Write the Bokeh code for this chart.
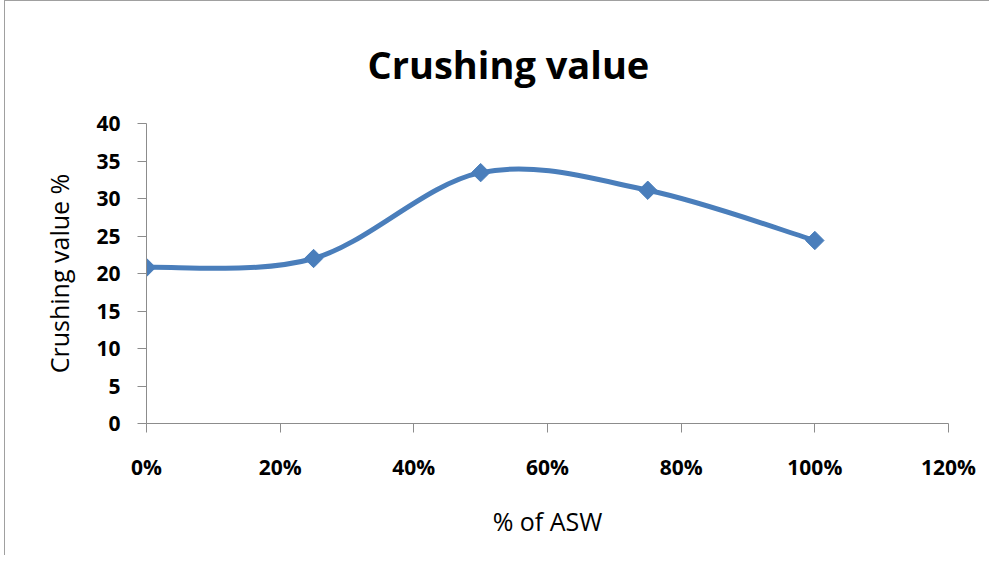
import math
from bokeh.plotting import figure
from bokeh.models import Range1d, FixedTicker, CustomJSTickFormatter
from bokeh.embed import file_html
from bokeh.resources import INLINE

# Data
asw_fraction = [0.0, 0.25, 0.50, 0.75, 1.00]
crushing_value = [20.8, 22.0, 33.45, 31.1, 24.4]
x_ticks = [0.0, 0.2, 0.4, 0.6, 0.8, 1.0, 1.2]
y_ticks = [0, 5, 10, 15, 20, 25, 30, 35, 40]

BLUE = "#4a7ebb"
AXIS = "#8c8c8c"
FONT = "Open Sans"

p = figure(width=985, height=555, output_backend="svg", toolbar_location=None,
           x_range=Range1d(0, 1.2), y_range=Range1d(0, 40),
           min_border_left=141, min_border_right=42,
           min_border_top=122, min_border_bottom=133,
           title="Crushing value",
           styles={"margin-left": "4px",
                   "border-top": "1px solid #a0a0a0", "border-left": "1px solid #a0a0a0"})

p.outline_line_color = None
p.xgrid.grid_line_color = None
p.ygrid.grid_line_color = None

p.title.align = "left"
p.title.offset = 221
p.title.text_font = FONT
p.title.text_font_size = "38px"
p.title.text_font_style = "bold"
p.title.text_color = "#000000"
p.title.standoff = 68

for ax in (p.xaxis, p.yaxis):
    ax.axis_line_color = AXIS
    ax.axis_line_width = 1
    ax.major_tick_line_color = AXIS
    ax.major_tick_in = 0
    ax.major_tick_out = 9
    ax.minor_tick_line_color = None
    ax.major_label_text_font = FONT
    ax.major_label_text_font_size = "21px"
    ax.major_label_text_font_style = "bold"
    ax.major_label_text_color = "#000000"
    ax.axis_label_text_font = FONT
    ax.axis_label_text_font_size = "25px"
    ax.axis_label_text_font_style = "normal"
    ax.axis_label_text_color = "#000000"

p.xaxis.ticker = FixedTicker(ticks=x_ticks)
p.yaxis.ticker = FixedTicker(ticks=y_ticks)
p.xaxis.formatter = CustomJSTickFormatter(code="return Math.round(tick*100) + '%';")
p.xaxis.major_label_standoff = 20
p.yaxis.major_label_standoff = 17
p.xaxis.axis_label = "% of ASW"
p.yaxis.axis_label = "Crushing value %"
p.xaxis.axis_label_standoff = 20
p.yaxis.axis_label_standoff = 17

# Smooth (Excel-like Catmull-Rom) bezier segments built from the data
n = len(asw_fraction)
x0, y0, x1, y1, cx0, cy0, cx1, cy1 = [], [], [], [], [], [], [], []
for i in range(n - 1):
    pa = i - 1 if i > 0 else i
    pd = i + 2 if i + 2 < n else i + 1
    xa, ya = asw_fraction[pa], crushing_value[pa]
    xb, yb = asw_fraction[i], crushing_value[i]
    xc, yc = asw_fraction[i + 1], crushing_value[i + 1]
    xd, yd = asw_fraction[pd], crushing_value[pd]
    x0.append(xb); y0.append(yb); x1.append(xc); y1.append(yc)
    cx0.append(xb + (xc - xa) / 6); cy0.append(yb + (yc - ya) / 6)
    cx1.append(xc - (xd - xb) / 6); cy1.append(yc - (yd - yb) / 6)

p.bezier(x0=x0, y0=y0, x1=x1, y1=y1, cx0=cx0, cy0=cy0, cx1=cx1, cy1=cy1,
         line_color=BLUE, line_width=5)
p.scatter(asw_fraction, crushing_value, marker="square", size=13,
          angle=math.pi / 4, fill_color=BLUE, line_color=BLUE)

open("out.html", "w").write(file_html(p, INLINE))
